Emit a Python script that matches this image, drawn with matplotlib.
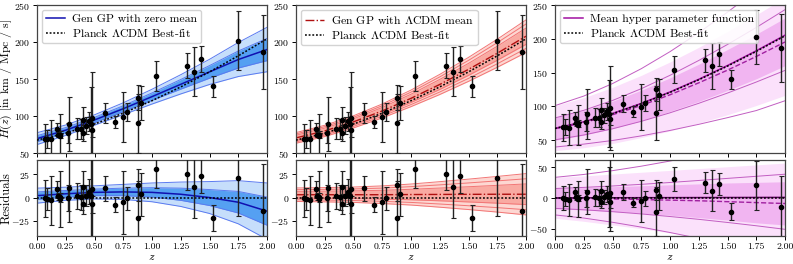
import numpy as np
import matplotlib
matplotlib.use('Agg')
import matplotlib.pyplot as plt

plt.rcParams['font.family'] = 'serif'
plt.rcParams['font.serif'] = ['cmr10']
plt.rcParams['mathtext.fontset'] = 'cm'
plt.rcParams['axes.formatter.use_mathtext'] = True
plt.rcParams['font.size'] = 7

# cosmic chronometer data
z_data = [0.07, 0.09, 0.12, 0.17, 0.179, 0.199, 0.2, 0.27, 0.28, 0.352, 0.3802,
          0.4, 0.4004, 0.4247, 0.4497, 0.47, 0.4783, 0.48, 0.593, 0.68, 0.75,
          0.781, 0.875, 0.88, 0.9, 1.037, 1.3, 1.363, 1.43, 1.53, 1.75, 1.965]
H_data = [69, 69, 68.6, 83, 75, 75, 72.9, 77, 88.8, 83, 83,
          95, 77, 87.1, 92.8, 89, 80.9, 97, 104, 92, 98.8,
          105, 125, 90, 117, 154, 168, 160, 177, 140, 202, 186.5]
H_err = [19.6, 12, 26.2, 8, 4, 5, 29.6, 14, 36.6, 14, 13.5,
         17, 10.2, 11.2, 12.9, 49.6, 9, 62, 13, 8, 33.6,
         12, 17, 40, 23, 20, 17, 33.6, 18, 14, 40, 50.4]
res_data = [-0.75, -1.46, -2.97, 9.49, 1.13, 0.31, -1.83, -0.74, 10.6, 1.46, 0.09,
            11.11, -6.91, 1.95, 6.36, 1.49, -7.05, 8.96, 9.68, -7.48, -5.03,
            -0.81, 13.0, -22.34, 3.3, 30.68, 24.74, 11.7, 23.23, -22.13, 20.7, -14.6]

# curves on a z grid (residuals w.r.t. Planck)
z_grid = [0.0, 0.25, 0.5, 0.75, 1.0, 1.25, 1.5, 1.75, 2.0]
planck = [67.4, 76.85, 89.11, 103.83, 120.66, 139.32, 159.6, 181.3, 204.3]

# zero mean GP
gp0_mean = [2.0, 4.0, 5.5, 6.0, 5.5, 3.5, 0.0, -5.0, -14.5]
gp0_sig = [4.0, 3.5, 3.5, 4.0, 5.0, 6.5, 8.5, 11.5, 15.0]

# LCDM mean GP
gpl_mean = [3.0, 3.0, 3.0, 3.0, 3.2, 3.3, 3.4, 3.5, 3.5]
gpl_sig = [3.6, 3.8, 4.1, 4.7, 5.6, 6.8, 8.1, 9.5, 11.0]

# mean hyper parameter function
hp_mean = [0.2, 0.3, 0.4, 0.5, 0.6, 0.7, 0.8, 0.9, 1.0]
hp_dash = [-0.5, -1.0, -1.5, -2.5, -3.5, -4.5, -6.0, -7.5, -9.0]
hp_lines = [
    [33.7, 38.4, 44.6, 51.9, 60.3, 69.7, 79.8, 90.7, 102.2],
    [15.5, 17.3, 19.6, 22.3, 25.3, 28.6, 32.0, 35.4, 38.8],
    [-16.9, -19.2, -22.3, -26.0, -30.2, -34.8, -39.9, -45.3, -51.1],
    [-27.6, -32.7, -39.6, -47.5, -56.3, -65.9, -76.3, -87.5, -96.0],
]
hp_in_up = [16.0, 17.0, 18.5, 20.0, 21.5, 23.0, 24.5, 25.5, 26.5]
hp_in_lo = [-17.5, -19.5, -22.0, -25.0, -28.0, -32.0, -36.0, -40.5, -44.0]
hp_out_up = [33.7, 36.0, 39.0, 42.0, 45.0, 48.0, 51.0, 54.0, 57.0]
hp_out_lo = [-33.0, -38.0, -44.0, -50.0, -57.0, -64.0, -72.0, -80.0, -88.0]

zg = np.array(z_grid)
pl = np.array(planck)

W, H = 793, 264
fig = plt.figure(figsize=(W / 100, H / 100), dpi=100)
lefts = [37, 296, 555]
axw = 230
axes_top = [fig.add_axes([l / W, 1 - 153 / H, axw / W, 148 / H]) for l in lefts]
axes_bot = [fig.add_axes([l / W, 1 - 236 / H, axw / W, 76 / H]) for l in lefts]


def data(ax_t, ax_b):
    kw = dict(fmt='o', color='black', ecolor='#222222', ms=3, elinewidth=1,
              capsize=1.8, capthick=0.8, zorder=5)
    ax_t.errorbar(z_data, H_data, yerr=H_err, **kw)
    ax_b.errorbar(z_data, res_data, yerr=H_err, **kw)
    ax_t.plot(zg, pl, color='black', ls=(0, (1.2, 1.2)), lw=1.1, zorder=4,
              label=r'Planck $\Lambda$CDM Best-fit')
    ax_b.plot(zg, np.zeros_like(zg), color='black', ls=(0, (1.2, 1.2)), lw=1.1, zorder=4)


def gp_bands(ax_t, ax_b, mean, sig, c_in, c_out, c_line, nlines):
    m = np.array(mean)
    s = np.array(sig)
    for ax, base in ((ax_t, pl), (ax_b, 0 * pl)):
        ax.fill_between(zg, base + m - 2 * s, base + m + 2 * s, color=c_out, lw=0)
        ax.fill_between(zg, base + m - s, base + m + s, color=c_in, lw=0)
        for k in nlines:
            ax.plot(zg, base + m + k * s, color=c_line, lw=0.7)
            ax.plot(zg, base + m - k * s, color=c_line, lw=0.7)


# panel 1
gp_bands(axes_top[0], axes_bot[0], gp0_mean, gp0_sig, '#55a0f2', '#c6defb', '#5a7af0', [1, 2])
axes_top[0].plot(zg, pl + np.array(gp0_mean), color='#1010b0', lw=1.1, label='Gen GP with zero mean')
axes_bot[0].plot(zg, np.array(gp0_mean), color='#1010b0', lw=1.1)
data(axes_top[0], axes_bot[0])

# panel 2
gp_bands(axes_top[1], axes_bot[1], gpl_mean, gpl_sig, '#f9aaa2', '#fdd7d2', '#f27575', [1, 1.5, 2])
axes_top[1].plot(zg, pl + np.array(gpl_mean), color='#b01010', lw=1.0, ls='-.',
                 label=r'Gen GP with $\Lambda$CDM mean')
axes_bot[1].plot(zg, np.array(gpl_mean), color='#b01010', lw=1.0, ls='-.')
data(axes_top[1], axes_bot[1])

# panel 3
for ax, base in ((axes_top[2], pl), (axes_bot[2], 0 * pl)):
    ax.fill_between(zg, base + np.array(hp_out_lo), base + np.array(hp_out_up), color='#fbe1fb', lw=0)
    ax.fill_between(zg, base + np.array(hp_in_lo), base + np.array(hp_in_up), color='#f1b5f1', lw=0)
    for ln in hp_lines:
        ax.plot(zg, base + np.array(ln), color='#c25ec2', lw=0.7)
    ax.plot(zg, base + np.array(hp_dash), color='#a020a0', lw=1.0, ls='--')
axes_top[2].plot(zg, pl + np.array(hp_mean), color='#a010a0', lw=1.1,
                 label='Mean hyper parameter function')
axes_bot[2].plot(zg, np.array(hp_mean), color='#600060', lw=1.1)
data(axes_top[2], axes_bot[2])

ticks = [0, 0.25, 0.5, 0.75, 1.0, 1.25, 1.5, 1.75, 2.0]
for i in range(3):
    at, ab = axes_top[i], axes_bot[i]
    at.set_xlim(0, 2)
    ab.set_xlim(0, 2)
    at.set_xticks(ticks)
    at.set_xticklabels([])
    ab.set_xticks(ticks)
    ab.set_xticklabels(['%.2f' % t for t in ticks])
    fig.text((lefts[i] + axw / 2) / W, 1 - 260 / H, '$z$', fontsize=8.5,
             ha='center', va='baseline')
    for ax in (at, ab):
        ax.tick_params(labelsize=7, length=3, width=0.7, pad=2)
        for sp in ax.spines.values():
            sp.set_color('#444444')
            sp.set_linewidth(0.9)
    ab.tick_params(axis='x', pad=1.5)
    at.legend(loc='upper left', fontsize=8.5, framealpha=0.85, edgecolor='#cccccc',
              handlelength=1.6, handletextpad=0.6, borderpad=0.35,
              labelspacing=0.25, borderaxespad=0.4)

axes_top[0].set_ylim(50, 250)
axes_top[1].set_ylim(50, 250)
axes_top[2].set_ylim(31, 250)
for ax in axes_top:
    ax.set_yticks([50, 100, 150, 200, 250])
axes_bot[0].set_ylim(-41, 40)
axes_bot[1].set_ylim(-41, 40)
axes_bot[2].set_ylim(-62, 62)
axes_bot[0].set_yticks([-25, 0, 25])
axes_bot[1].set_yticks([-25, 0, 25])
axes_bot[2].set_yticks([-50, 0, 50])

fig.text(6.5 / W, 1 - 79 / H, '$H(z)$ [in km / Mpc / s]', fontsize=8.5, rotation=90,
         ha='center', va='center')
fig.text(6.5 / W, 1 - 198 / H, 'Residuals', fontsize=9, rotation=90,
         ha='center', va='center')

fig.savefig('out.png', dpi=100)
